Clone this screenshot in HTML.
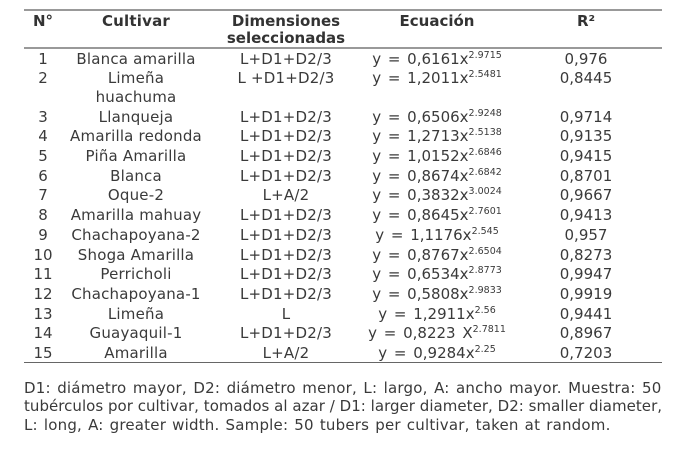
<!DOCTYPE html>
<html lang="es">
<head>
<meta charset="utf-8">
<title>Cultivares</title>
<style>
html,body{margin:0;padding:0;background:#fff;}
#page{position:relative;width:700px;height:457px;overflow:hidden;background:#fff;font-family:"DejaVu Sans","Liberation Sans",sans-serif;font-size:15px;color:#3a3a3a;}
.r{position:absolute;left:0;width:700px;height:20px;line-height:20px;}
.c{position:absolute;top:0;text-align:center;white-space:nowrap;}
.n{left:13px;width:60px;}
.k{left:56px;width:160px;letter-spacing:.2px;}
.d{left:203px;width:166px;letter-spacing:.2px;}
.h .d{letter-spacing:0;}
.e{left:357px;width:160px;word-spacing:2px;}
.q{left:526px;width:120px;}
sup{font-size:9.5px;line-height:0;vertical-align:baseline;position:relative;top:-6px;word-spacing:0;}
.h{font-weight:bold;color:#333;}
.line{position:absolute;left:24px;width:638px;}
.note{position:absolute;left:24px;height:19px;line-height:19px;white-space:nowrap;}
</style>
</head>
<body>
<div id="page">
<div class="line" style="top:9px;height:2px;background:#999;"></div>
<div class="line" style="top:47px;height:2px;background:#999;"></div>
<div class="line" style="top:362px;height:1px;background:#666;"></div>

<div class="r h" style="top:11px;">
<span class="c n">N°</span>
<span class="c k">Cultivar</span>
<span class="c d">Dimensiones</span>
<span class="c e">Ecuación</span>
<span class="c q">R²</span>
</div>
<div class="r h" style="top:28px;">
<span class="c d">seleccionadas</span>
</div>

<div class="r" style="top:49px;"><span class="c n">1</span><span class="c k">Blanca amarilla</span><span class="c d">L+D1+D2/3</span><span class="c e">y = 0,6161x<sup>2.9715</sup></span><span class="c q">0,976</span></div>
<div class="r" style="top:68px;"><span class="c n">2</span><span class="c k">Limeña</span><span class="c d">L +D1+D2/3</span><span class="c e">y = 1,2011x<sup>2.5481</sup></span><span class="c q">0,8445</span></div>
<div class="r" style="top:87px;"><span class="c k">huachuma</span></div>
<div class="r" style="top:107px;"><span class="c n">3</span><span class="c k">Llanqueja</span><span class="c d">L+D1+D2/3</span><span class="c e">y = 0,6506x<sup>2.9248</sup></span><span class="c q">0,9714</span></div>
<div class="r" style="top:126px;"><span class="c n">4</span><span class="c k">Amarilla redonda</span><span class="c d">L+D1+D2/3</span><span class="c e">y = 1,2713x<sup>2.5138</sup></span><span class="c q">0,9135</span></div>
<div class="r" style="top:146px;"><span class="c n">5</span><span class="c k">Piña Amarilla</span><span class="c d">L+D1+D2/3</span><span class="c e">y = 1,0152x<sup>2.6846</sup></span><span class="c q">0,9415</span></div>
<div class="r" style="top:166px;"><span class="c n">6</span><span class="c k">Blanca</span><span class="c d">L+D1+D2/3</span><span class="c e">y = 0,8674x<sup>2.6842</sup></span><span class="c q">0,8701</span></div>
<div class="r" style="top:185px;"><span class="c n">7</span><span class="c k">Oque-2</span><span class="c d">L+A/2</span><span class="c e">y = 0,3832x<sup>3.0024</sup></span><span class="c q">0,9667</span></div>
<div class="r" style="top:205px;"><span class="c n">8</span><span class="c k">Amarilla mahuay</span><span class="c d">L+D1+D2/3</span><span class="c e">y = 0,8645x<sup>2.7601</sup></span><span class="c q">0,9413</span></div>
<div class="r" style="top:225px;"><span class="c n">9</span><span class="c k">Chachapoyana-2</span><span class="c d">L+D1+D2/3</span><span class="c e">y = 1,1176x<sup>2.545</sup></span><span class="c q">0,957</span></div>
<div class="r" style="top:245px;"><span class="c n">10</span><span class="c k">Shoga Amarilla</span><span class="c d">L+D1+D2/3</span><span class="c e">y = 0,8767x<sup>2.6504</sup></span><span class="c q">0,8273</span></div>
<div class="r" style="top:264px;"><span class="c n">11</span><span class="c k">Perricholi</span><span class="c d">L+D1+D2/3</span><span class="c e">y = 0,6534x<sup>2.8773</sup></span><span class="c q">0,9947</span></div>
<div class="r" style="top:284px;"><span class="c n">12</span><span class="c k">Chachapoyana-1</span><span class="c d">L+D1+D2/3</span><span class="c e">y = 0,5808x<sup>2.9833</sup></span><span class="c q">0,9919</span></div>
<div class="r" style="top:304px;"><span class="c n">13</span><span class="c k">Limeña</span><span class="c d">L</span><span class="c e">y = 1,2911x<sup>2.56</sup></span><span class="c q">0,9441</span></div>
<div class="r" style="top:323px;"><span class="c n">14</span><span class="c k">Guayaquil-1</span><span class="c d">L+D1+D2/3</span><span class="c e">y = 0,8223 X<sup>2.7811</sup></span><span class="c q">0,8967</span></div>
<div class="r" style="top:343px;"><span class="c n">15</span><span class="c k">Amarilla</span><span class="c d">L+A/2</span><span class="c e">y = 0,9284x<sup>2.25</sup></span><span class="c q">0,7203</span></div>

<div class="note" style="top:379px;letter-spacing:.2px;word-spacing:1.5px;">D1: diámetro mayor, D2: diámetro menor, L: largo, A: ancho mayor. Muestra: 50</div>
<div class="note" style="top:397px;letter-spacing:.03px;">tubérculos por cultivar, tomados al azar / D1: larger diameter, D2: smaller diameter,</div>
<div class="note" style="top:416px;letter-spacing:.2px;word-spacing:1.1px;">L: long, A: greater width. Sample: 50 tubers per cultivar, taken at random.</div>
</div>
</body>
</html>
